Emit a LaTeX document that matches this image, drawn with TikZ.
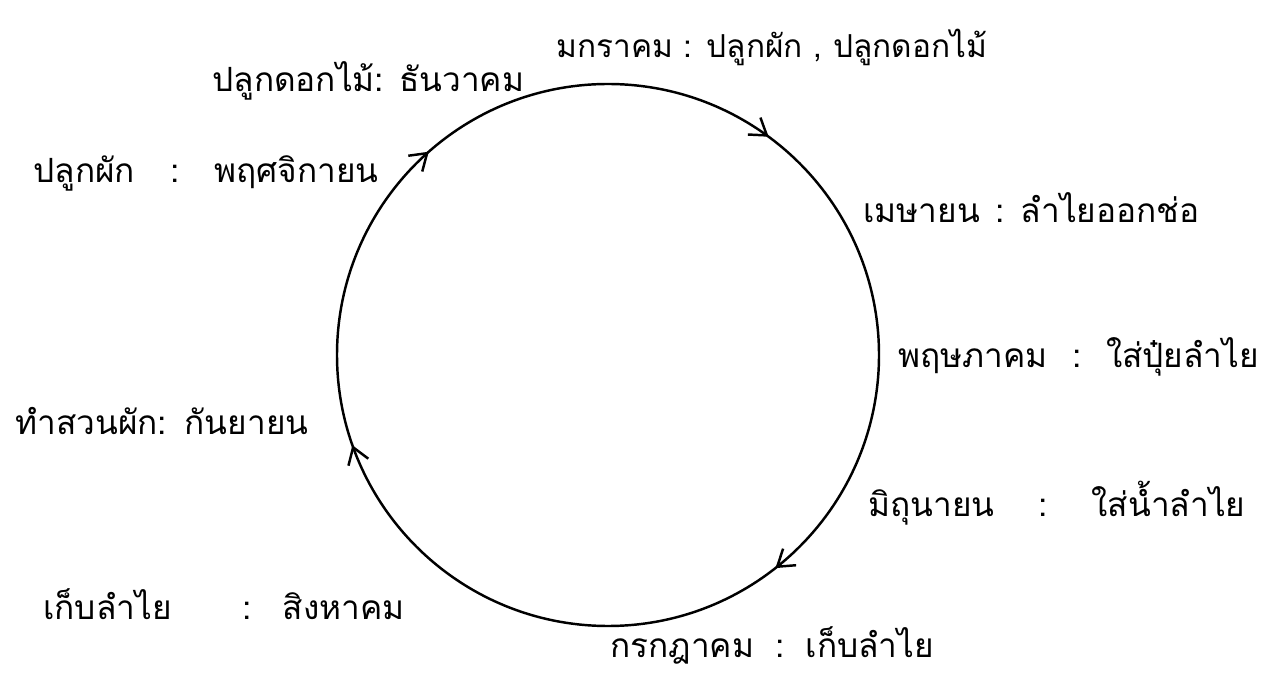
\documentclass[tikz,border=0pt]{standalone}
\usepackage{fontspec}
\newfontfamily\thaifont[Script=Thai]{Loma}
\usetikzlibrary{arrows.meta,decorations.markings}
\begin{document}
\begin{tikzpicture}[x=0.02cm,y=0.02cm,
  lbl/.style={anchor=base west,inner sep=0pt,font=\thaifont\fontsize{19}{23}\selectfont},
  cyc/.style={line width=1.4pt},
  cycletip/.tip={Straight Barb[length=9pt,width=12pt]}]
\useasboundingbox (0,0) rectangle (1285,673);
% the yearly cycle, drawn clockwise from its leftmost point
\draw[cyc,postaction={decorate},decoration={markings,
  mark=at position 0.135 with {\arrow[line width=1.4pt]{cycletip}},
  mark=at position 0.351 with {\arrow[line width=1.4pt]{cycletip}},
  mark=at position 0.644 with {\arrow[line width=1.4pt]{cycletip}},
  mark=at position 0.946 with {\arrow[line width=1.4pt]{cycletip}}}]
  (337,318) arc[start angle=180,end angle=-180,radius=271];
% labels
\node[lbl,font=\thaifont\fontsize{18}{22}\selectfont] (jan) at (556,615) {มกราคม : ปลูกผัก , ปลูกดอกไม้};
\node[lbl] (dec) at (212,581) {ปลูกดอกไม้: ธันวาคม};
\node[lbl] (nov) at (33,490) {ปลูกผัก\hspace{20pt}:\hspace{20pt}พฤศจิกายน};
\node[lbl] (apr) at (863,450) {เมษายน\hspace{9pt}:\hspace{9pt}ลำไยออกช่อ};
\node[lbl] (may) at (898,305) {พฤษภาคม\hspace{14pt}:\hspace{14pt}ใส่ปุ๋ยลำไย};
\node[lbl] (sep) at (15,238) {ทำสวนผัก:\hspace{10pt}กันยายน};
\node[lbl] (jun) at (868,156) {มิถุนายน\hspace{25pt}:\hspace{25pt}ใส่น้ำลำไย};
\node[lbl] (aug) at (43,53) {เก็บลำไย\hspace{40pt}:\hspace{18pt}สิงหาคม};
\node[lbl] (jul) at (610,15) {กรกฎาคม\hspace{12pt}:\hspace{12pt}เก็บลำไย};
\end{tikzpicture}
\end{document}
